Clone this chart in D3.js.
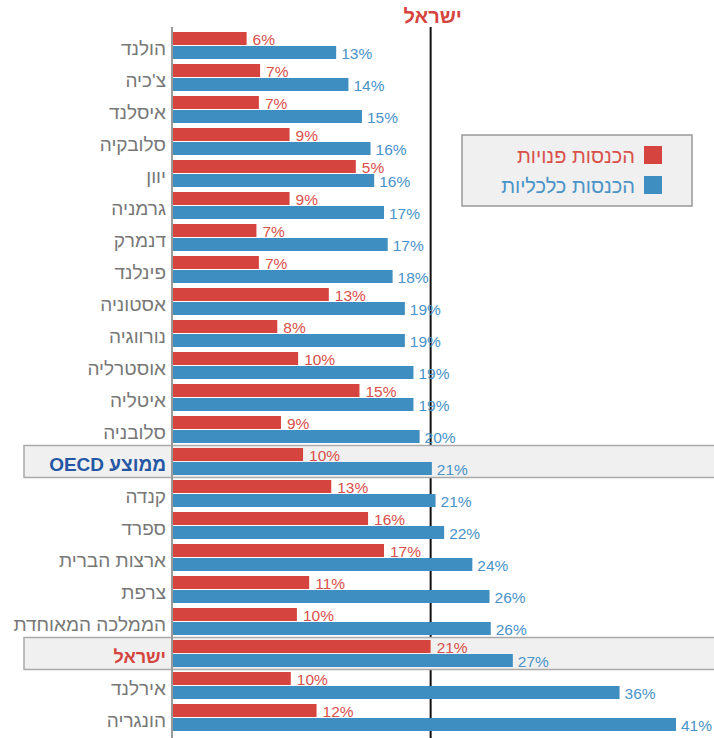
<!DOCTYPE html>
<html>
<head>
<meta charset="utf-8">
<script src="https://cdn.jsdelivr.net/npm/d3@7"></script>
<style>
  body { margin: 0; background: #fff; }
  svg { font-family: "Liberation Sans", Arial, sans-serif; }
</style>
</head>
<body>
<svg id="chart" width="714" height="738"></svg>
<script>
// countries, top to bottom
var countries = ["הולנד", "צ'כיה", "איסלנד", "סלובקיה", "יוון", "גרמניה", "דנמרק", "פינלנד",
  "אסטוניה", "נורווגיה", "אוסטרליה", "איטליה", "סלובניה", "ממוצע OECD", "קנדה", "ספרד",
  "ארצות הברית", "צרפת", "הממלכה המאוחדת", "ישראל", "אירלנד", "הונגריה"];

// red: disposable income, blue: economic income
var disposable = [6.0, 7.1, 7.0, 9.5, 14.9, 9.5, 6.8, 7.0, 12.7, 8.5, 10.2, 15.2, 8.8, 10.6,
  12.9, 15.9, 17.2, 11.1, 10.1, 21.0, 9.6, 11.7];
var economic = [13.3, 14.3, 15.4, 16.1, 16.4, 17.2, 17.5, 17.9, 18.9, 18.9, 19.6, 19.6, 20.1, 21.1,
  21.4, 22.1, 24.4, 25.8, 25.9, 27.7, 36.4, 41.0];

// printed labels (as shown on the chart)
var disposableLabels = ["6%", "7%", "7%", "9%", "5%", "9%", "7%", "7%", "13%", "8%", "10%", "15%",
  "9%", "10%", "13%", "16%", "17%", "11%", "10%", "21%", "10%", "12%"];
var economicLabels = ["13%", "14%", "15%", "16%", "16%", "17%", "17%", "18%", "19%", "19%", "19%",
  "19%", "20%", "21%", "21%", "22%", "24%", "26%", "26%", "27%", "36%", "41%"];

var legendNames = ["הכנסות פנויות", "הכנסות כלכליות"];
var oecdName = "ממוצע OECD";
var israelName = "ישראל";

var red = "#d5443e", blue = "#3e8ec2";

var svg = d3.select("#chart");

var x = d3.scaleLinear().domain([0, 41]).range([173, 676]);
var y = d3.scaleBand().domain(countries).range([32, 32 + 22 * 32 - 5]).paddingInner(5 / 32);
var barH = (y.bandwidth() - 1) / 2;

var israelIdx = countries.indexOf(israelName);
var israelX = x(disposable[israelIdx]);

// israel reference line
svg.append("line")
  .attr("x1", israelX).attr("x2", israelX)
  .attr("y1", 27).attr("y2", 738)
  .attr("stroke", "#111").attr("stroke-width", 2);

svg.append("text")
  .attr("x", israelX + 2).attr("y", 23)
  .attr("text-anchor", "middle")
  .attr("font-size", 20).attr("font-weight", "bold")
  .attr("fill", red)
  .text(israelName);

// highlight rows
[oecdName, israelName].forEach(function(name) {
  svg.append("rect")
    .attr("x", 24).attr("y", y(name) - 2.5)
    .attr("width", 700).attr("height", 32)
    .attr("fill", "#eff0ef")
    .attr("stroke", "#aaa").attr("stroke-width", 1.5);
});

// axis line
svg.append("line")
  .attr("x1", 172).attr("x2", 172)
  .attr("y1", 27).attr("y2", 738)
  .attr("stroke", "#999").attr("stroke-width", 2);

var rows = svg.selectAll(".row")
  .data(countries)
  .enter().append("g")
  .attr("class", "row")
  .attr("transform", function(d) { return "translate(0," + y(d) + ")"; });

rows.append("rect")
  .attr("x", x(0))
  .attr("y", 0)
  .attr("width", function(d, i) { return x(disposable[i]) - x(0); })
  .attr("height", barH)
  .attr("fill", red);

rows.append("rect")
  .attr("x", x(0))
  .attr("y", barH + 1)
  .attr("width", function(d, i) { return x(economic[i]) - x(0); })
  .attr("height", barH)
  .attr("fill", blue);

rows.append("text")
  .attr("x", function(d, i) { return x(disposable[i]) + 6; })
  .attr("y", barH - 0.5)
  .attr("font-size", 15.5)
  .attr("fill", "#d9504b")
  .text(function(d, i) { return disposableLabels[i]; });

rows.append("text")
  .attr("x", function(d, i) { return x(economic[i]) + 5; })
  .attr("y", 2 * barH + 0.5)
  .attr("font-size", 15.5)
  .attr("fill", "#4a93c8")
  .text(function(d, i) { return economicLabels[i]; });

// country names
rows.append("text")
  .attr("x", 166)
  .attr("y", 23)
  .style("direction", "rtl")
  .attr("text-anchor", "start")
  .attr("font-size", function(d) { return d == israelName ? 18 : 19; })
  .attr("font-weight", function(d) { return (d == oecdName || d == israelName) ? "bold" : "normal"; })
  .attr("fill", function(d) {
    if (d == oecdName) return "#2456a4";
    if (d == israelName) return red;
    return "#777";
  })
  .text(function(d) { return d; });

// legend
var legend = svg.append("g");
legend.append("rect")
  .attr("x", 462).attr("y", 135)
  .attr("width", 230).attr("height", 71)
  .attr("fill", "#eff0ef")
  .attr("stroke", "#999").attr("stroke-width", 1.5);

[red, blue].forEach(function(c, i) {
  legend.append("rect")
    .attr("x", 644).attr("y", 146 + i * 30)
    .attr("width", 18).attr("height", 18)
    .attr("fill", c);
  legend.append("text")
    .attr("x", 635).attr("y", 163 + i * 30)
    .style("direction", "rtl")
    .attr("text-anchor", "start")
    .attr("font-size", 20)
    .attr("fill", i == 0 ? "#d9504b" : "#4a93c8")
    .text(legendNames[i]);
});
</script>
</body>
</html>
